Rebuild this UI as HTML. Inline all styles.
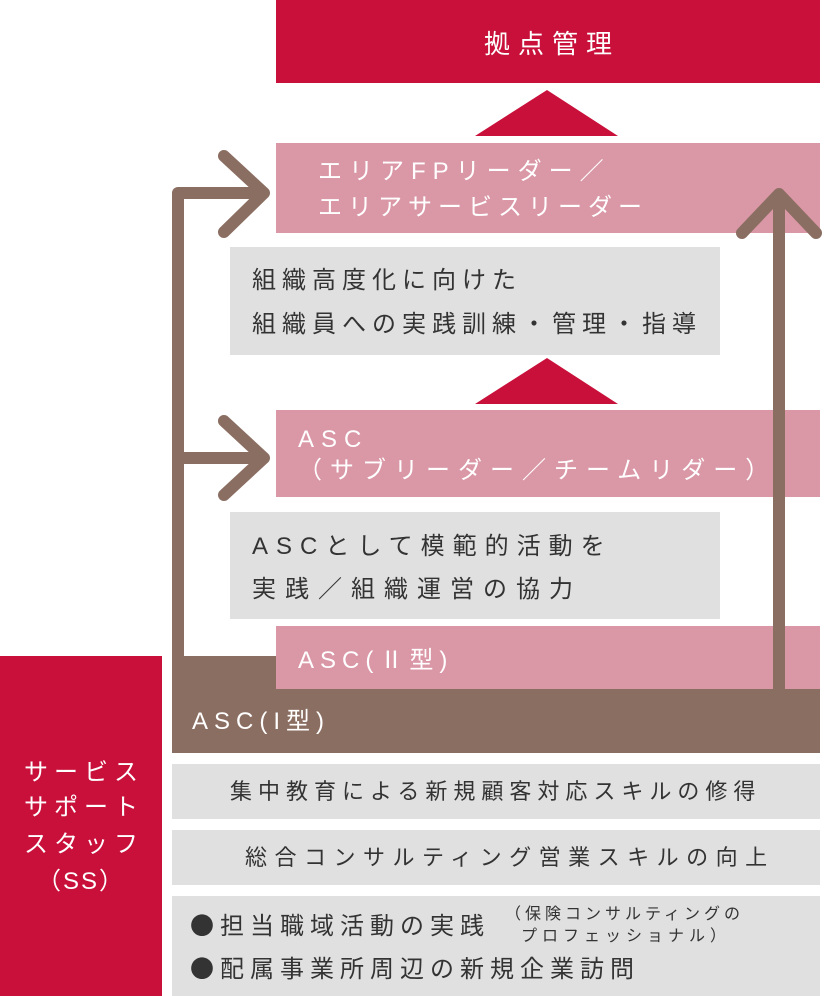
<!DOCTYPE html>
<html><head><meta charset="utf-8"><style>
body{margin:0;width:825px;height:996px;position:relative;background:#fff;overflow:hidden;font-family:"Liberation Sans","Noto Sans CJK JP",sans-serif}
div{position:absolute;box-sizing:border-box}
.red{background:#c8103a}.pink{background:#da97a6}.gray{background:#e0e0e0}.brown{background:#8b6e62}
.t{position:absolute;white-space:nowrap;line-height:1;font-weight:400}
.w{color:#fff}.k{color:#333}
.b{font-family:"Noto Sans CJK JP",sans-serif}
</style></head><body>
<div class="red" style="left:276px;top:0;width:544px;height:83px"></div>
<span class="t w" style="left:484px;top:31px;font-size:26px;letter-spacing:8px">拠点管理</span>

<svg style="position:absolute;left:0;top:0" width="825" height="996">
<polygon points="547,90 475,136 618,136" fill="#c8103a"/>
<polygon points="547,358 475,404 618,404" fill="#c8103a"/>
</svg>

<div class="pink" style="left:276px;top:143px;width:544px;height:90px"></div>
<span class="t w" style="left:318px;top:160px;font-size:24px;letter-spacing:7px">エリアFPリーダー／</span>
<span class="t w" style="left:318px;top:196px;font-size:24px;letter-spacing:6px">エリアサービスリーダー</span>

<div class="gray" style="left:230px;top:247px;width:490px;height:108px"></div>
<span class="t k" style="left:252px;top:269px;font-size:24px;letter-spacing:6px">組織高度化に向けた</span>
<span class="t k" style="left:252px;top:313px;font-size:24px;letter-spacing:6px">組織員への実践訓練・管理・指導</span>

<div class="pink" style="left:276px;top:410px;width:544px;height:87px"></div>
<span class="t w" style="left:298px;top:428px;font-size:24px;letter-spacing:7px">ASC</span>
<span class="t w" style="left:298px;top:459px;font-size:24px;letter-spacing:8px">（サブリーダー／チームリダー）</span>

<div class="gray" style="left:230px;top:512px;width:490px;height:107px"></div>
<span class="t k" style="left:252px;top:535px;font-size:24px;letter-spacing:8px">ASCとして模範的活動を</span>
<span class="t k" style="left:252px;top:578px;font-size:24px;letter-spacing:9px">実践／組織運営の協力</span>

<div class="brown" style="left:172px;top:656px;width:110px;height:40px"></div>
<div class="pink" style="left:276px;top:626px;width:544px;height:64px"></div>
<span class="t w" style="left:298px;top:649px;font-size:24px;letter-spacing:6px">ASC(Ⅱ型)</span>
<div class="brown" style="left:172px;top:689px;width:648px;height:64px"></div>
<span class="t w" style="left:192px;top:710px;font-size:24px;letter-spacing:6px">ASC(I型)</span>

<svg style="position:absolute;left:0;top:0" width="825" height="996">
<g stroke="#8b6e62" stroke-width="12" fill="none" stroke-linecap="round" stroke-linejoin="round">
<path d="M178,660 V193 H262" stroke-linecap="butt"/>
<path d="M178,458 H262" stroke-linecap="butt"/>
<path d="M224,156 L264,193 L224,232"/>
<path d="M224,421 L264,458 L224,495"/>
<path d="M779,689 V196" stroke-linecap="butt"/>
<path d="M742,233 L779,194 L816,233"/>
</g>
</svg>

<div class="red" style="left:0;top:656px;width:162px;height:340px"></div>
<span class="t w" style="left:0;width:162px;text-align:center;top:761px;font-size:24px;letter-spacing:6px;text-indent:6px">サービス</span>
<span class="t w" style="left:0;width:162px;text-align:center;top:796px;font-size:24px;letter-spacing:6px;text-indent:6px">サポート</span>
<span class="t w" style="left:0;width:162px;text-align:center;top:833px;font-size:24px;letter-spacing:6px;text-indent:6px">スタッフ</span>
<span class="t w" style="left:0;width:162px;text-align:center;top:870px;font-size:24px;letter-spacing:2px">（SS）</span>

<div class="gray" style="left:172px;top:764px;width:648px;height:55px"></div>
<span class="t k" style="left:230px;top:781px;font-size:22px;letter-spacing:6px">集中教育による新規顧客対応スキルの修得</span>
<div class="gray" style="left:172px;top:830px;width:648px;height:55px"></div>
<span class="t k" style="left:245px;top:847px;font-size:22px;letter-spacing:7.5px">総合コンサルティング営業スキルの向上</span>
<div class="gray" style="left:172px;top:896px;width:648px;height:100px"></div>
<span class="t k b" style="left:190px;top:912px;font-size:24px;letter-spacing:6px">●担当職域活動の実践</span>
<span class="t k" style="left:505px;top:907px;font-size:16px;letter-spacing:4px">（保険コンサルティングの</span>
<span class="t k" style="left:521px;top:929px;font-size:16px;letter-spacing:5px">プロフェッショナル）</span>
<span class="t k b" style="left:190px;top:955px;font-size:24px;letter-spacing:6px">●配属事業所周辺の新規企業訪問</span>
</body></html>
